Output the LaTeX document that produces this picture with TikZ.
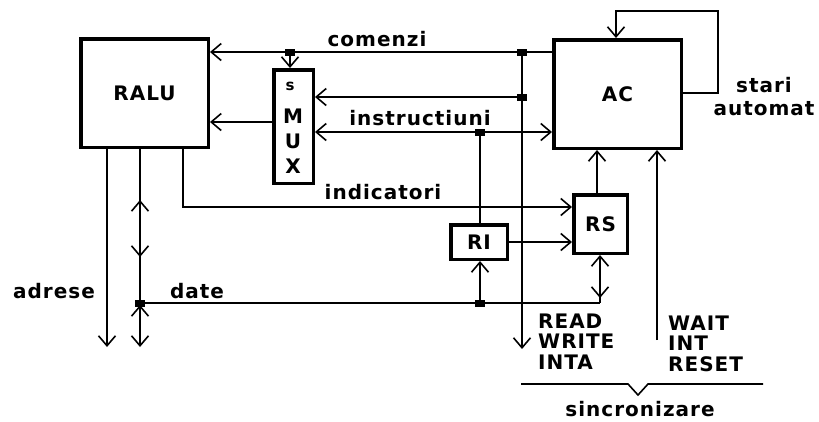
\documentclass[tikz,border=0pt]{standalone}
\usepackage{fontspec}
\setmainfont{DejaVu Sans}[LetterSpace=5]
\usetikzlibrary{arrows.meta,decorations.markings}
\begin{document}
\begin{tikzpicture}[x=1pt,y=-1pt,
  >={Straight Barb[length=10pt,width=17pt]},
  wire/.style={line width=1.6pt},
  blk/.style={draw,line width=3.5pt,inner sep=0pt,font=\fontsize{20}{24}\selectfont\bfseries},
  lbl/.style={inner sep=0pt,font=\fontsize{20}{24}\selectfont\bfseries},
  small/.style={inner sep=0pt,font=\fontsize{15}{18}\selectfont\bfseries},
  stack/.style={inner sep=0pt,align=left,font=\fontsize{20}{20.5}\selectfont\bfseries},
  jdot/.style={fill,minimum width=10pt,minimum height=7pt,inner sep=0pt,outer sep=0pt}
]
\fill[white] (0,0) rectangle (819,421);
\useasboundingbox (0,0) rectangle (819,421);

% blocks
\node[blk,minimum width=127.5pt,minimum height=108.5pt] (ralu) at (144.5,93) {RALU};
\node[blk,minimum width=127.5pt,minimum height=108.5pt] (ac) at (617.5,94) {AC};
\node[blk,minimum width=39.5pt,minimum height=113.5pt] (mux) at (293.5,126.5) {};
\node[blk,minimum width=53.5pt,minimum height=58.5pt] (rs) at (600.5,224) {RS};
\node[blk,minimum width=56.5pt,minimum height=34.5pt] (ri) at (479,242) {RI};

% MUX letters
\node[small] (ms) at (290,86) {s};
\node[lbl] (mm) at (293,116) {M};
\node[lbl] (mu) at (293,141) {U};
\node[lbl] (mx) at (293,166) {X};

% junctions
\node[jdot] (j1) at (290,52) {};
\node[jdot] (j2) at (522,52) {};
\node[jdot] (j3) at (522,97) {};
\node[jdot] (j4) at (480,132) {};
\node[jdot] (j5) at (140,303) {};
\node[jdot] (j6) at (480,303) {};

% free ends and bends
\coordinate (adr) at (107,347);
\coordinate (dat) at (140,347);
\coordinate (rd) at (522,349);
\coordinate (wt) at (657,340);
\coordinate (c1) at (600,303);

% comenzi / instructiuni
\draw[wire,->] (ac.west |- j2) -- (j2.center) -- (j1.center) -- (ralu.east |- j1);
\draw[wire,->] (j1.center) -- (mux.north -| j1);
\draw[wire,->] (j2.center) -- (rd);
\draw[wire,->] (j3.center) -- (mux.east |- j3);
\draw[wire,<->] (mux.east |- j4) -- (ac.west |- j4);
\draw[wire] (j4.center) -- (ri.north -| j4);
\draw[wire,->] (mux.west |- 0,122) -- (ralu.east |- 0,122);

% AC feedback
\draw[wire,->] (ac.east |- 0,93) -| (718,11) -| (ac.north -| 616,0);

% indicatori, RI, RS
\draw[wire,->] (ralu.south -| 183,0) |- (rs.west |- 0,207);
\draw[wire,->] (ri.east) -- (rs.west |- ri.east);
\draw[wire,->] (rs.north -| 597,0) -- (ac.south -| 597,0);
\draw[wire,->] (wt) -- (ac.south -| wt);

% adrese / date
\draw[wire,->] (ralu.south -| adr) -- (adr);
\draw[wire,->,postaction={decorate},decoration={markings,
   mark=at position 63pt with {\arrow{<}},
   mark=at position 108pt with {\arrow{>}},
   mark=at position 168pt with {\arrow{<}}}] (ralu.south -| dat) -- (dat);
\draw[wire] (j5.center) -- (j6.center) -- (c1);
\draw[wire,->] (j6.center) -- (ri.south -| j6);
\draw[wire,->,postaction={decorate},decoration={markings,
   mark=at position 17pt with {\arrow{<}}}] (c1) -- (rs.south -| c1);

% brace
\draw[wire] (521,384) -- (628,384) -- (638,395) -- (648,384) -- (763,384);

% junction dots on top
\foreach \j in {j1,j2,j3,j4,j5,j6} \fill (\j.south west) rectangle (\j.north east);

% labels
\node[lbl,anchor=base] (tcom) at (377,46) {comenzi};
\node[lbl,anchor=base] (tins) at (420,125) {instructiuni};
\node[lbl,anchor=base] (tind) at (383,199) {indicatori};
\node[lbl,anchor=base] (tadr) at (54,298) {adrese};
\node[lbl,anchor=base] (tdat) at (197,298) {date};
\node[lbl,anchor=base] (tsta) at (764,92) {stari};
\node[lbl,anchor=base] (taut) at (764,115) {automat};
\node[stack,anchor=base west] (trd) at (538,369) {READ\\WRITE\\INTA};
\node[stack,anchor=base west] (twt) at (668,371) {WAIT\\INT\\RESET};
\node[lbl,anchor=base] (tsin) at (640,416) {sincronizare};
\end{tikzpicture}
\end{document}
